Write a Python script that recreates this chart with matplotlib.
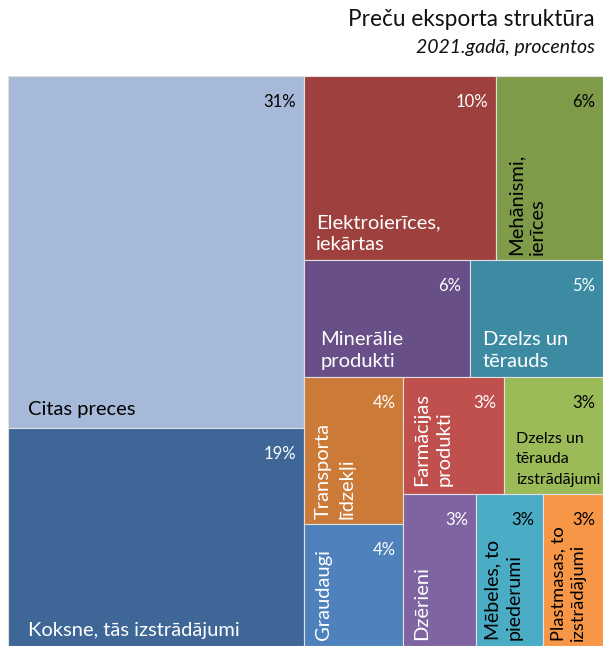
import matplotlib
matplotlib.use("Agg")
import matplotlib.pyplot as plt
from matplotlib.patches import Rectangle

plt.rcParams['font.family'] = ['Lato', 'DejaVu Sans']

# ---- data ----
categories = ["Citas preces", "Koksne, tās izstrādājumi", "Elektroierīces,\niekārtas",
              "Mehānismi,\nierīces", "Minerālie\nprodukti", "Dzelzs un\ntērauds",
              "Transporta\nlīdzekļi", "Graudaugi", "Farmācijas\nprodukti",
              "Dzelzs un\ntērauda\nizstrādājumi", "Dzērieni", "Mēbeles, to\npiederumi",
              "Plastmasas, to\nizstrādājumi"]
values = [30.7, 19.0, 10.4, 5.8, 5.7, 4.6, 4.3, 3.55, 3.45, 3.4, 3.25, 3.0, 2.7]

title = "Preču eksporta struktūra"
subtitle = "2021.gadā, procentos"

# ---- styles ----
colors = ["#A7B9D8", "#3E6797", "#9E403E", "#7E9B4A", "#694F87", "#3D8AA3",
          "#CC7A38", "#4F81BD", "#C0504D", "#9BBB59", "#8064A2", "#4BACC6", "#F79646"]
text_colors = ["black", "white", "white", "black", "white", "white",
               "white", "white", "white", "black", "white", "black", "black"]
rotations = [0, 0, 0, 90, 0, 0, 90, 90, 90, 0, 90, 90, 90]
name_sizes = [14.5, 14.5, 14.5, 14.5, 14.5, 14.5, 14.5, 14.5, 14.5, 11.5, 14.5, 14, 13.2]
left_pads = [20, 20, 12, 11, 16, 13, 11, 11, 10, 12, 10, 9, 8]
line_sp = [1.3, 1.3, 1.35, 1.35, 1.35, 1.35, 1.45, 1.3, 1.35, 1.6, 1.3, 1.3, 1.25]
bottom_pads = [10, 7, 7, 5, 7, 7, 5, 6, 8, 7, 6, 6, 5]

group_sizes = [2, 2, 2, 2, 2, 3]
group_orient = ['col', 'row', 'row', 'col', 'row', 'row']

W, H = 595.0, 570.0  # plot area in pixels


def layout(vals, groups, orient, x0, y0, w, h):
    scale = w * h / sum(vals)
    rects = []
    i = 0
    for g, o in zip(groups, orient):
        part = vals[i:i + g]
        area = sum(part) * scale
        if o == 'col':
            sw = area / h
            yy = y0
            for v in part:
                hh = v * scale / sw
                rects.append((x0, yy, sw, hh))
                yy += hh
            x0 += sw
            w -= sw
        else:
            sh = area / w
            xx = x0
            for v in part:
                ww = v * scale / sh
                rects.append((xx, y0, ww, sh))
                xx += ww
            y0 += sh
            h -= sh
        i += g
    return rects


fig = plt.figure(figsize=(6.03, 6.46), dpi=100)
ax = fig.add_axes([8 / 603, 0, 595 / 603, 570 / 646])
ax.set_xlim(0, W)
ax.set_ylim(H, 0)
ax.axis('off')

rects = layout(values, group_sizes, group_orient, 0, 0, W, H)
for (x, y, w, h), name, v, c, tc, rot, fs, lp, ls, bp in zip(rects, categories, values, colors,
                                                            text_colors, rotations, name_sizes,
                                                            left_pads, line_sp, bottom_pads):
    ax.add_patch(Rectangle((x, y), w, h, facecolor=c, edgecolor='#e0e0e0', linewidth=0.8))
    ax.text(x + w - 8, y + 18, f"{v:.0f}%", ha='right', va='top', color=tc, fontsize=12)
    ax.text(x + lp, y + h - bp, name, ha='left', va='bottom', color=tc, fontsize=fs,
            rotation=rot, linespacing=ls)

fig.text(595 / 603, 1 - 20 / 646, title, ha='right', va='center', fontsize=16.3, color='#111111')
fig.text(595 / 603, 1 - 48 / 646, subtitle, ha='right', va='center', fontsize=14,
         style='italic', color='#111111')

fig.savefig("out.png", dpi=100)
